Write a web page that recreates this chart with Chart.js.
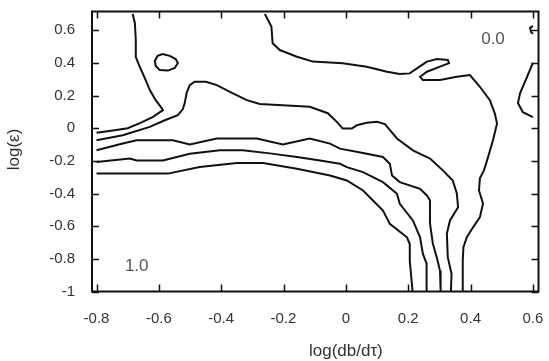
<!DOCTYPE html>
<html lang="en">
<head>
<meta charset="UTF-8">
<title>Contour</title>
<script src="https://cdn.jsdelivr.net/npm/chart.js"></script>
<style>
  body { margin: 0; background: #fff; }
  #wrap { width: 549px; height: 361px; }
</style>
</head>
<body>
<div id="wrap"><canvas id="contour-chart"></canvas></div>

<script>
    // tick values and labels
    var xTicks = [-0.8, -0.6, -0.4, -0.2, 0, 0.2, 0.4, 0.6];
    var xTickLabels = ['-0.8', '-0.6', '-0.4', '-0.2', '0', '0.2', '0.4', '0.6'];
    var yTicks = [-1, -0.8, -0.6, -0.4, -0.2, 0, 0.2, 0.4, 0.6];
    var yTickLabels = ['-1', '-0.8', '-0.6', '-0.4', '-0.2', '0', '0.2', '0.4', '0.6'];
    var xTitle = 'log(db/dτ)';
    var yTitle = 'log(ε)';

    // contour lines, [log(db/dtau), log(eps)] pairs
    var contourA = [[-0.684,0.700],[-0.677,0.645],[-0.674,0.541],[-0.674,0.436],[-0.661,0.375],[-0.645,0.307],[-0.629,0.234],[-0.610,0.172],[-0.591,0.123],[-0.587,0.111],[-0.620,0.068],[-0.661,0.031],[-0.700,0.000],[-0.742,-0.012],[-0.800,-0.028]];
    var island = [[-0.588,0.455],[-0.565,0.443],[-0.546,0.424],[-0.539,0.400],[-0.549,0.369],[-0.571,0.353],[-0.597,0.356],[-0.610,0.381],[-0.613,0.412],[-0.604,0.443],[-0.588,0.455]];
    var contourB = [[-0.800,-0.074],[-0.716,-0.043],[-0.629,0.008],[-0.581,0.049],[-0.539,0.080],[-0.523,0.117],[-0.517,0.154],[-0.511,0.215],[-0.501,0.264],[-0.485,0.285],[-0.449,0.285],[-0.414,0.264],[-0.372,0.223],[-0.318,0.172],[-0.276,0.148],[-0.116,0.131],[-0.058,0.092],[-0.029,0.039],[-0.010,-0.002],[0.019,-0.002],[0.035,0.018],[0.067,0.033],[0.100,0.039],[0.125,0.025],[0.164,-0.063],[0.215,-0.135],[0.270,-0.186],[0.311,-0.258],[0.343,-0.320],[0.356,-0.400],[0.360,-0.484],[0.334,-0.565],[0.324,-0.645],[0.327,-0.791],[0.339,-0.891],[0.337,-1.000]];
    var contourC = [[-0.800,-0.135],[-0.716,-0.094],[-0.671,-0.074],[-0.555,-0.074],[-0.501,-0.100],[-0.414,-0.063],[-0.286,-0.063],[-0.202,-0.100],[-0.116,-0.063],[-0.051,-0.094],[-0.019,-0.125],[0.055,-0.152],[0.119,-0.176],[0.141,-0.217],[0.148,-0.289],[0.173,-0.330],[0.238,-0.371],[0.260,-0.412],[0.270,-0.443],[0.270,-0.584],[0.279,-0.707],[0.292,-0.793],[0.302,-0.873],[0.304,-1.000]];
    var contourD = [[-0.800,-0.207],[-0.693,-0.186],[-0.671,-0.197],[-0.587,-0.197],[-0.501,-0.156],[-0.404,-0.135],[-0.331,-0.135],[-0.244,-0.154],[-0.157,-0.176],[-0.083,-0.197],[-0.019,-0.218],[0.003,-0.238],[0.055,-0.269],[0.119,-0.330],[0.164,-0.401],[0.173,-0.463],[0.215,-0.565],[0.238,-0.668],[0.247,-0.768],[0.259,-0.830],[0.259,-1.000]];
    var contourE = [[-0.800,-0.278],[-0.571,-0.278],[-0.469,-0.238],[-0.350,-0.213],[-0.266,-0.213],[-0.157,-0.248],[-0.051,-0.289],[0.003,-0.320],[0.055,-0.381],[0.087,-0.443],[0.119,-0.504],[0.141,-0.586],[0.196,-0.668],[0.205,-0.709],[0.205,-0.811],[0.214,-1.000]];
    var contourF = [[-0.260,0.700],[-0.239,0.623],[-0.235,0.521],[-0.212,0.479],[-0.157,0.438],[-0.106,0.408],[-0.010,0.398],[0.067,0.377],[0.132,0.346],[0.173,0.332],[0.205,0.336],[0.228,0.367],[0.260,0.408],[0.292,0.424],[0.327,0.418],[0.331,0.398],[0.302,0.377],[0.260,0.346],[0.238,0.315],[0.247,0.295],[0.302,0.295],[0.356,0.315],[0.398,0.326],[0.430,0.254],[0.462,0.172],[0.478,0.090],[0.485,0.029],[0.472,-0.074],[0.453,-0.197],[0.443,-0.258],[0.430,-0.307],[0.427,-0.381],[0.440,-0.461],[0.430,-0.545],[0.408,-0.607],[0.388,-0.668],[0.377,-0.730],[0.375,-0.811],[0.375,-1.000]];
    var contourG = [[0.600,0.400],[0.581,0.313],[0.559,0.215],[0.552,0.154],[0.568,0.098],[0.600,0.068]];
    var contourH = [[0.600,0.627],[0.591,0.615],[0.594,0.590],[0.600,0.578]];

    // level labels inside the plot
    var levelLabels = ['0.0', '1.0'];
    var levelLabelPos = [[0.472, 0.547], [-0.671, -0.848]];

    var lines = [contourA, island, contourB, contourC, contourD, contourE, contourF, contourG, contourH];
    var fontFamily = '"Liberation Sans", Arial, sans-serif';

    var frame = {
        id: 'frame',
        afterDatasetsDraw: function(chart) {
            var ctx = chart.ctx, a = chart.chartArea;
            var x = chart.scales.x, y = chart.scales.y;
            ctx.save();
            ctx.strokeStyle = '#111';
            ctx.lineWidth = 1.5;
            ctx.beginPath();
            xTicks.forEach(function(v) {
                var p = Math.round(x.getPixelForValue(v)) + 0.5;
                ctx.moveTo(p, a.bottom); ctx.lineTo(p, a.bottom - 7);
                ctx.moveTo(p, a.top); ctx.lineTo(p, a.top + 7);
            });
            yTicks.forEach(function(v) {
                var p = Math.round(y.getPixelForValue(v)) + 0.5;
                ctx.moveTo(a.left, p); ctx.lineTo(a.left + 7, p);
                ctx.moveTo(a.right, p); ctx.lineTo(a.right - 7, p);
            });
            ctx.stroke();
            ctx.lineWidth = 2;
            ctx.strokeRect(a.left, a.top, a.right - a.left, a.bottom - a.top);

            ctx.textAlign = 'center';
            ctx.textBaseline = 'middle';
            ctx.fillStyle = '#555';
            ctx.font = '17px ' + fontFamily;
            levelLabels.forEach(function(t, i) {
                ctx.fillText(t, x.getPixelForValue(levelLabelPos[i][0]), y.getPixelForValue(levelLabelPos[i][1]));
            });

            // axis titles
            ctx.fillStyle = '#333';
            ctx.fillText(xTitle, x.getPixelForValue(0), 351);
            ctx.translate(14, (a.top + a.bottom) / 2 - 2);
            ctx.rotate(-Math.PI / 2);
            ctx.fillText(yTitle, 0, 0);
            ctx.restore();
        }
    };

    var ctx = document.getElementById('contour-chart').getContext('2d');
    var chart = new Chart(ctx, {
        type: 'scatter',
        data: {
            datasets: lines.map(function(l) {
                return {
                    data: l.map(function(p) { return {x: p[0], y: p[1]}; }),
                    showLine: true,
                    borderColor: '#111',
                    borderWidth: 2,
                    pointRadius: 0,
                    tension: 0,
                    fill: false
                };
            })
        },
        options: {
            responsive: true,
            maintainAspectRatio: false,
            animation: false,
            layout: { padding: { top: 11.5, right: 10.5, left: 0, bottom: 0 } },
            plugins: { legend: { display: false }, tooltip: { enabled: false } },
            scales: {
                x: {
                    type: 'linear',
                    min: -0.8145,
                    max: 0.618,
                    grid: { display: false, drawTicks: false },
                    border: { display: false },
                    afterBuildTicks: function(s) { s.ticks = xTicks.map(function(v) { return {value: v}; }); },
                    afterFit: function(s) { s.height = 69.5; s.paddingLeft = 0; s.paddingRight = 0; },
                    ticks: {
                        padding: 18,
                        maxRotation: 0,
                        autoSkip: false,
                        color: '#333',
                        font: { size: 15, family: fontFamily },
                        callback: function(v, i) { return xTickLabels[i]; }
                    }
                },
                y: {
                    type: 'linear',
                    min: -1,
                    max: 0.715,
                    grid: { display: false, drawTicks: false },
                    border: { display: false },
                    afterBuildTicks: function(s) { s.ticks = yTicks.map(function(v) { return {value: v}; }); },
                    afterFit: function(s) { s.width = 92; s.paddingTop = 0; s.paddingBottom = 0; },
                    ticks: {
                        padding: 17,
                        autoSkip: false,
                        color: '#333',
                        font: { size: 15, family: fontFamily },
                        callback: function(v, i) { return yTickLabels[i]; }
                    }
                }
            }
        },
        plugins: [frame]
    });
</script>
</body>
</html>
